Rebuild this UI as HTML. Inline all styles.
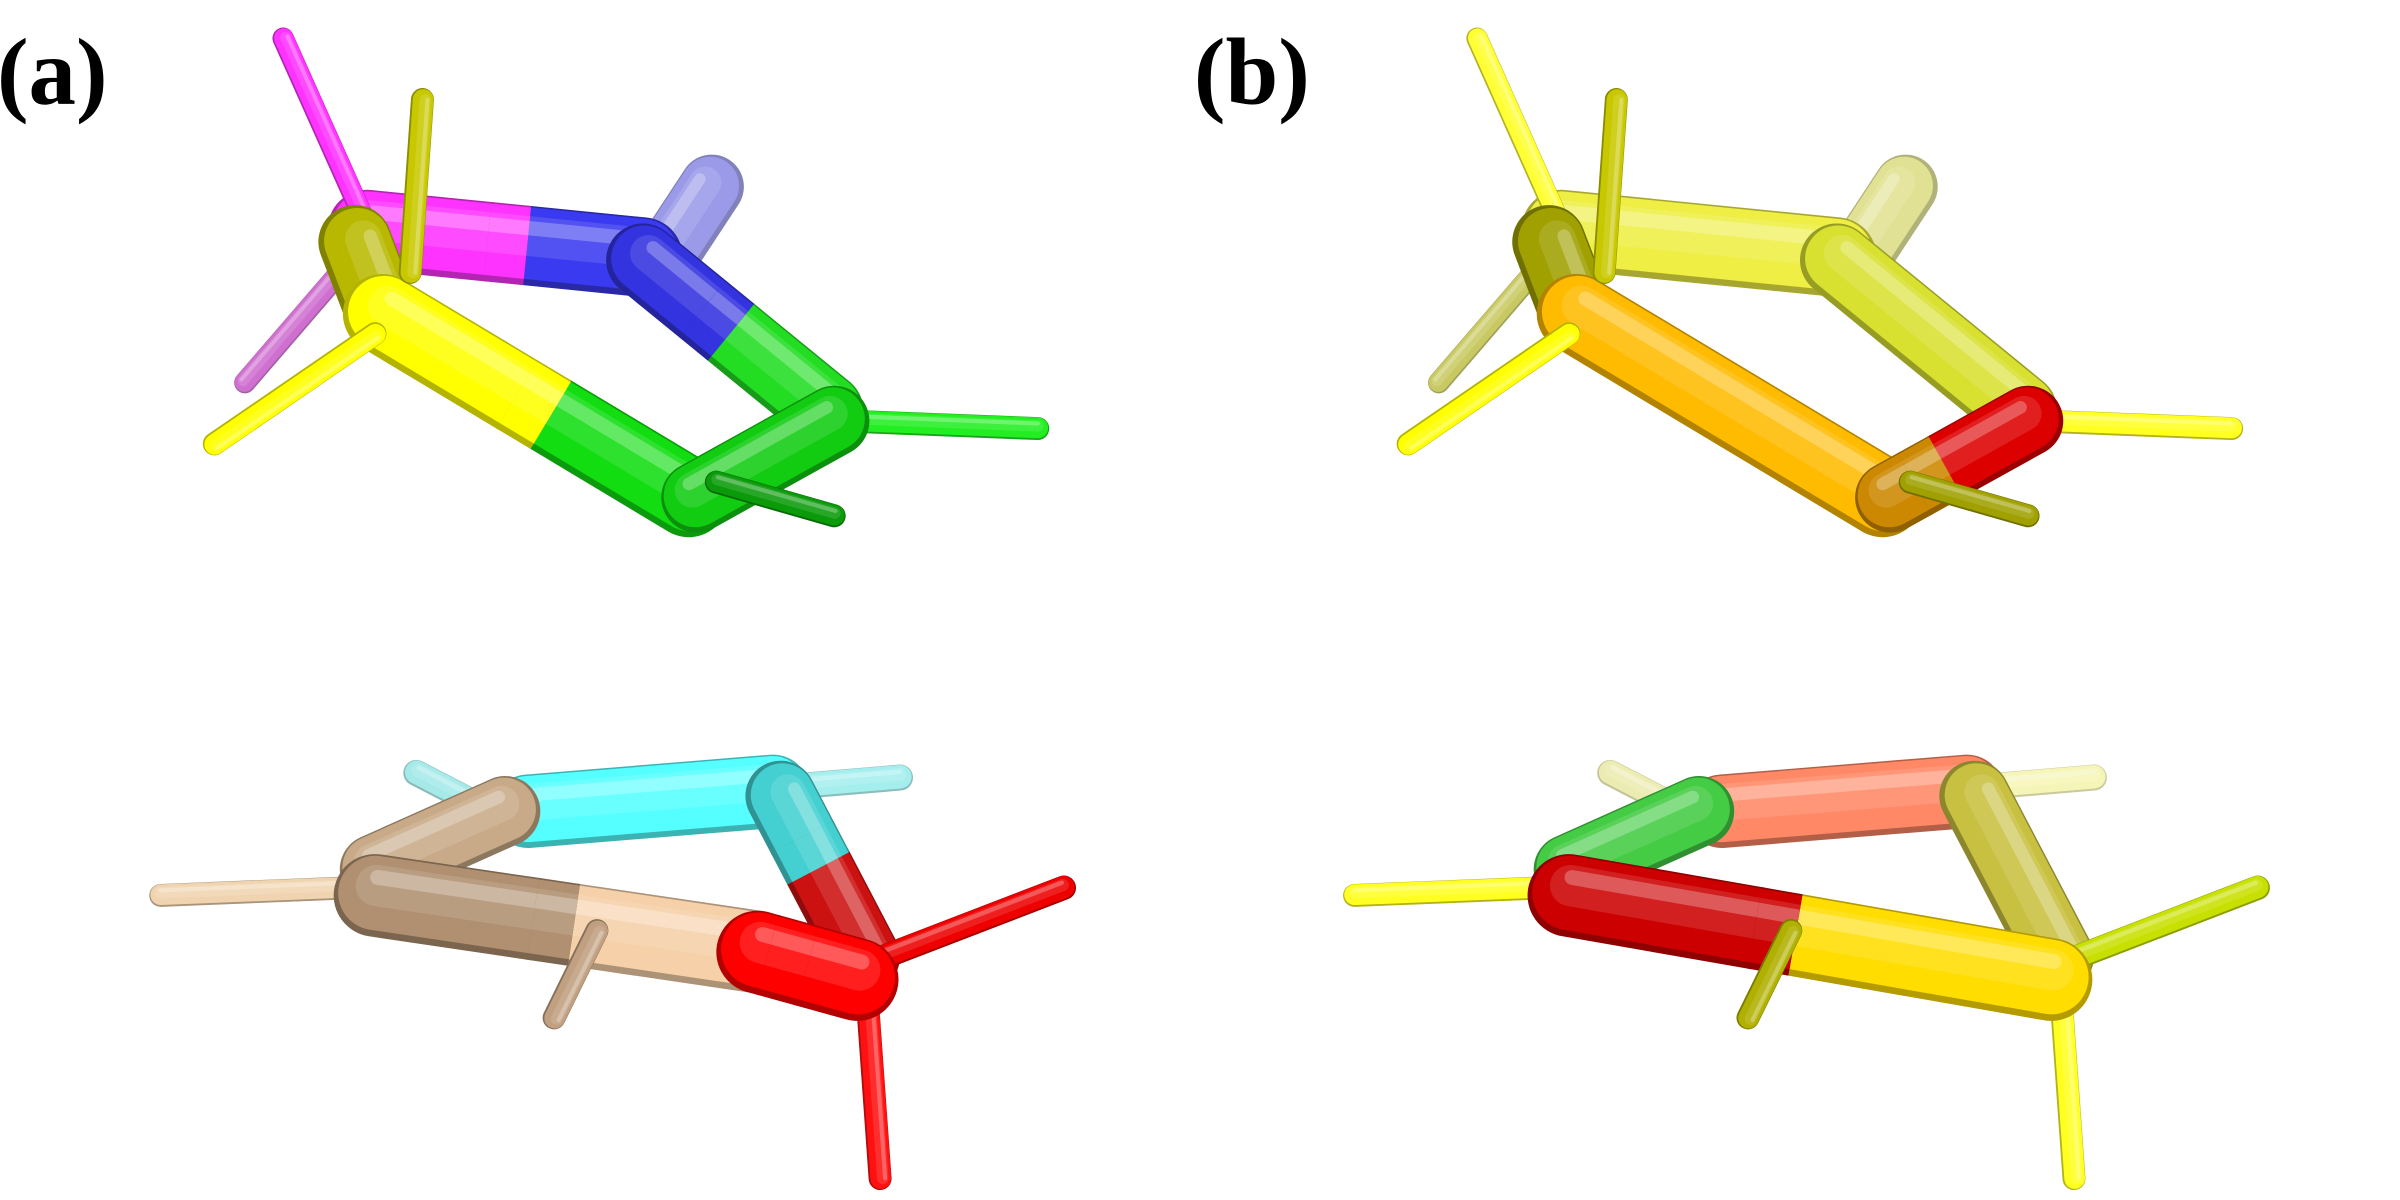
<!DOCTYPE html>
<html><head><meta charset="utf-8"><style>
html,body{margin:0;padding:0;background:#fff;}
svg{display:block;}
.lab{font-family:"Liberation Serif",serif;font-weight:bold;font-size:62px;}
</style></head><body>
<svg width="2400" height="1200" viewBox="0 0 1568 784" xmlns="http://www.w3.org/2000/svg">
<text class="lab" x="-2" y="68">(a)</text>
<text class="lab" x="780" y="68">(b)</text>
<g id="mols"></g>
</svg>
<script>
const NS='http://www.w3.org/2000/svg';
const root=document.getElementById('mols');
function shade(c,f){const n=parseInt(c.slice(1),16);let r=(n>>16)&255,g=(n>>8)&255,b=n&255;
 return 'rgb('+Math.round(r*f)+','+Math.round(g*f)+','+Math.round(b*f)+')';}
function light(c,f){const n=parseInt(c.slice(1),16);let r=(n>>16)&255,g=(n>>8)&255,b=n&255;
 return 'rgb('+Math.round(r+(255-r)*f)+','+Math.round(g+(255-g)*f)+','+Math.round(b+(255-b)*f)+')';}
function seg(gg,x1,y1,x2,y2,w,c,cap){
 const dx=x2-x1,dy=y2-y1,L=Math.hypot(dx,dy)||1,nx=-dy/L,ny=dx/L;
 const layers=[[w,shade(c,0.7),0],[w*0.9,c,-w*0.03],[w*0.5,light(c,0.12),-w*0.12],[w*0.18,light(c,0.35),-w*0.22]];
 layers.forEach(l=>{const p=document.createElementNS(NS,'line');
  p.setAttribute('x1',x1+nx*l[2]);p.setAttribute('y1',y1+ny*l[2]);
  p.setAttribute('x2',x2+nx*l[2]);p.setAttribute('y2',y2+ny*l[2]);
  p.setAttribute('stroke',l[1]);p.setAttribute('stroke-width',l[0]);p.setAttribute('stroke-linecap',cap);
  gg.appendChild(p);});
}
// s: x1,y1,x2,y2,w,color,opacity,color2,t (split fraction)
function stick(g,s,name){
 const [x1,y1,x2,y2,w,c,op,c2,t]=s;
 const gg=document.createElementNS(NS,'g');
 
 
 if(op)gg.setAttribute('opacity',op);
 if(c2){
  const mx=x1+(x2-x1)*t,my=y1+(y2-y1)*t,L=Math.hypot(x2-x1,y2-y1);
  const ux=(x2-x1)/L,uy=(y2-y1)/L;
  seg(gg,mx,my,x2,y2,w,c2,'round');
  const px=mx-ux*w/2,py=my-uy*w/2;
  seg(gg,x1,y1,px,py,w,c,'round');
  seg(gg,px,py,mx,my,w,c,'butt');
 } else seg(gg,x1,y1,x2,y2,w,c,'round');
 g.appendChild(gg);
}
function mol(ox,list,name){
 const g=document.createElementNS(NS,'g');
 g.setAttribute('transform','translate('+ox+',0)');
 
 
 root.appendChild(g);
 list.forEach((s,i)=>stick(g,s,name+'-bond-'+i));
}
// panel a top
mol(0,[
 [160,250,222,178,14,'#c040c0',0.75],
 [440,160,465,122,42,'#7070e0',0.7],
 [240,150,420,168,52,'#ff33ff',0,'#3a3af0',0.58],
 [420,170,540,268,48,'#3333e0',0,'#22dd22',0.48],
 [550,275,678,280,15,'#22ee22'],
 [185,25,240,148,14,'#ff33ff'],
 [232,158,250,205,48,'#b8b800'],
 [250,205,450,325,52,'#ffff00',0,'#11dd11',0.55],
 [455,325,545,275,46,'#11cc11'],
 [468,315,545,337,15,'#0a9a0a'],
 [245,218,140,290,15,'#ffff00'],
 [276,65,268,178,15,'#c8c800'],
],'molecule-a-top');
// panel b top
mol(780,[
 [160,250,222,178,14,'#b8b830',0.75],
 [440,160,465,122,42,'#d8d870',0.75],
 [240,150,420,168,52,'#eeee44'],
 [420,170,540,268,48,'#d8e030'],
 [550,275,678,280,15,'#ffff22'],
 [185,25,240,148,14,'#ffff33'],
 [232,158,250,205,48,'#a0a000'],
 [250,205,450,325,52,'#ffbb00'],
 [455,325,545,275,46,'#cc8800',0,'#dd0000',0.4],
 [468,315,545,337,15,'#a0a000'],
 [245,218,140,290,15,'#ffff00'],
 [276,65,268,178,15,'#c8c800'],
],'molecule-b-top');
// panel a bottom
mol(0,[
 [272,505,330,535,17,'#80e0e0',0.7],
 [505,515,588,508,17,'#80e8e8',0.7],
 [345,530,505,517,48,'#55ffff'],
 [510,520,565,625,46,'#44d0d0',0,'#cc1111',0.45],
 [245,568,330,530,46,'#c8aa88'],
 [105,585,230,580,15,'#f0d4b0'],
 [565,630,695,580,16,'#ee0000'],
 [565,630,575,770,15,'#ff1111'],
 [245,585,495,622,54,'#b09070',0,'#f5d0a8',0.52],
 [495,622,560,640,54,'#ff0000',0,'#ff0000',0.5],
 [390,608,362,665,15,'#c0a080'],
],'molecule-a-bottom');
// panel b bottom
mol(780,[
 [272,505,330,535,17,'#e0e080',0.6],
 [505,515,588,508,17,'#f0f088',0.6],
 [345,530,505,517,48,'#ff8866'],
 [510,520,565,625,46,'#c8c040'],
 [245,568,330,530,46,'#44cc44'],
 [105,585,230,580,15,'#ffff22'],
 [565,630,695,580,16,'#c8e000'],
 [565,630,575,770,15,'#ffff22'],
 [245,585,560,640,54,'#cc0000',0,'#ffdd00',0.47],
 [390,608,362,665,15,'#b0b000'],
],'molecule-b-bottom');
</script>
</body></html>
